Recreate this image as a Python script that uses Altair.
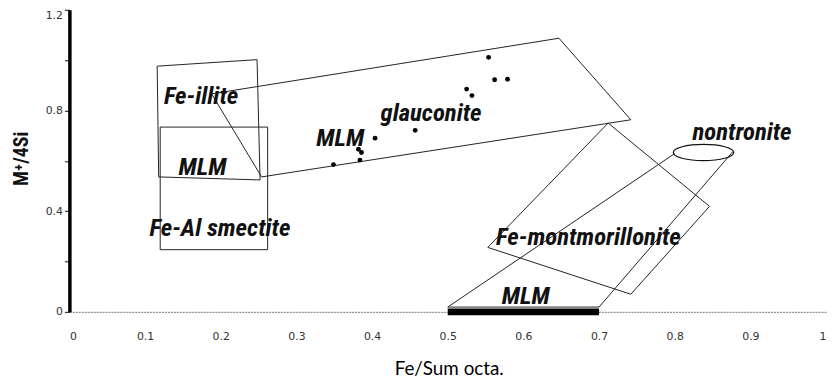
import altair as alt
import pandas as pd

# ---- scatter samples ----
pt_x = [0.554, 0.562, 0.579, 0.525, 0.532, 0.457, 0.404, 0.382, 0.386, 0.384, 0.349]
pt_y = [1.011, 0.922, 0.924, 0.885, 0.859, 0.721, 0.690, 0.646, 0.633, 0.603, 0.585]

# ---- field outlines (vertex lists, closed) ----
fe_illite_x = [0.116, 0.248, 0.252, 0.118, 0.116]
fe_illite_y = [0.976, 1.002, 0.524, 0.536, 0.976]

smectite_x = [0.120, 0.262, 0.262, 0.120, 0.120]
smectite_y = [0.734, 0.734, 0.247, 0.247, 0.734]

glauconite_x = [0.188, 0.647, 0.742, 0.254, 0.188]
glauconite_y = [0.866, 1.087, 0.763, 0.536, 0.866]

femont_x = [0.712, 0.846, 0.742, 0.553, 0.712]
femont_y = [0.750, 0.419, 0.070, 0.256, 0.750]

strip_x = [0.800, 0.500, 0.700, 0.877]
strip_y = [0.629, 0.019, 0.019, 0.637]

# nontronite ellipse centre
ell_x = [0.838]
ell_y = [0.633]

# MLM bar on the axis
bar_x = [0.5]
bar_x2 = [0.7]
bar_y = [0.0]

# ---- labels ----
lab_text = ["Fe-illite", "MLM", "Fe-Al smectite", "glauconite", "MLM",
            "nontronite", "Fe-montmorillonite", "MLM"]
lab_x = [0.174, 0.176, 0.199, 0.478, 0.358, 0.889, 0.686, 0.603]
lab_y = [0.827, 0.544, 0.303, 0.757, 0.660, 0.683, 0.264, 0.031]

x_ticks = [0, 0.1, 0.2, 0.3, 0.4, 0.5, 0.6, 0.7, 0.8, 0.9, 1]
y_ticks = [0, 0.2, 0.4, 0.6, 0.8, 1.0, 1.2]

# ---- tables ----
rows = []
for name, xs, ys in [("illite", fe_illite_x, fe_illite_y),
                     ("smectite", smectite_x, smectite_y),
                     ("glauconite", glauconite_x, glauconite_y),
                     ("femont", femont_x, femont_y),
                     ("strip", strip_x, strip_y)]:
    for i, (a, b) in enumerate(zip(xs, ys)):
        rows.append({"shape": name, "ord": i, "x": a, "y": b})
poly_df = pd.DataFrame(rows)
pts_df = pd.DataFrame({"x": pt_x, "y": pt_y})
ell_df = pd.DataFrame({"x": ell_x, "y": ell_y})
bar_df = pd.DataFrame({"x": bar_x, "x2": bar_x2, "y": bar_y})
lab_df = pd.DataFrame({"t": lab_text, "x": lab_x, "y": lab_y})

xscale = alt.Scale(domain=[0, 1], nice=False, zero=False)
yscale = alt.Scale(domain=[0, 1.2], nice=False, zero=False)

xaxis = alt.Axis(values=x_ticks, format="~g", grid=False, ticks=False,
                 domainColor="#777", domainWidth=1, domainDash=[2, 1],
                 labelFont="DejaVu Sans", labelFontSize=11, labelColor="#333",
                 labelPadding=19, title="Fe/Sum octa.", titleFont="Lato",
                 titleFontSize=19, titleFontWeight="normal", titleColor="#000",
                 titleX=383, titleY=57, titleBaseline="middle", titleAlign="center")
yaxis = alt.Axis(values=y_ticks, grid=False, ticks=True, tickSize=5, tickColor="#111",
                 tickWidth=1, domainColor="#000", domainWidth=3.5,
                 labelExpr="indexof([0,4,8,12], round(datum.value*10)) >= 0 ? format(datum.value, '~g') : ''",
                 labelBaseline={"condition": {"test": "datum.value > 1.1", "value": "top"},
                                "value": "middle"},
                 labelFont="DejaVu Sans", labelFontSize=11, labelColor="#333",
                 labelPadding=2, title="M⁺/4Si", titleFont="Roboto Condensed",
                 titleFontSize=20, titleFontWeight="bold", titleColor="#111",
                 titleAngle=270, titleX=-48, titleY=150, titleBaseline="middle",
                 titleAlign="center")


def X(f="x"):
    return alt.X(f"{f}:Q", scale=xscale, axis=xaxis)


def Y(f="y"):
    return alt.Y(f"{f}:Q", scale=yscale, axis=yaxis)


polys = alt.Chart(poly_df).mark_line(color="#222", strokeWidth=1).encode(
    x=X(), y=Y(), detail="shape:N", order="ord:Q")

bar = alt.Chart(bar_df).mark_rule(color="#000", strokeWidth=7, strokeCap="butt").encode(
    x=X(), x2="x2:Q", y=Y())

ellipse_path = ("M-1,0 C-1,-0.149 -0.552,-0.27 0,-0.27 C0.552,-0.27 1,-0.149 1,0 "
                "C1,0.149 0.552,0.27 0,0.27 C-0.552,0.27 -1,0.149 -1,0 Z")
ellipse = alt.Chart(ell_df).mark_point(
    shape=ellipse_path, size=3721, filled=False, stroke="#111",
    strokeWidth=1.2, opacity=1).encode(x=X(), y=Y())

points = alt.Chart(pts_df).mark_circle(size=24, color="#000", opacity=1).encode(
    x=X(), y=Y())

texts = alt.Chart(lab_df).mark_text(
    font="Roboto Condensed, Liberation Sans Narrow, DejaVu Sans Condensed, sans-serif",
    fontStyle="italic", fontWeight="bold", fontSize=25, color="#111",
    align="center", baseline="alphabetic").encode(
    x=X(), y=Y(), text="t:N")

chart = alt.layer(polys, bar, ellipse, points, texts).properties(
    width=764, height=305,
    autosize=alt.AutoSizeParams(type="none"),
    padding={"left": 62, "top": 0, "right": 5, "bottom": 66},
    background="white",
).configure_view(stroke=None)

chart.save("out.html", embed_options={"renderer": "svg", "actions": False})
